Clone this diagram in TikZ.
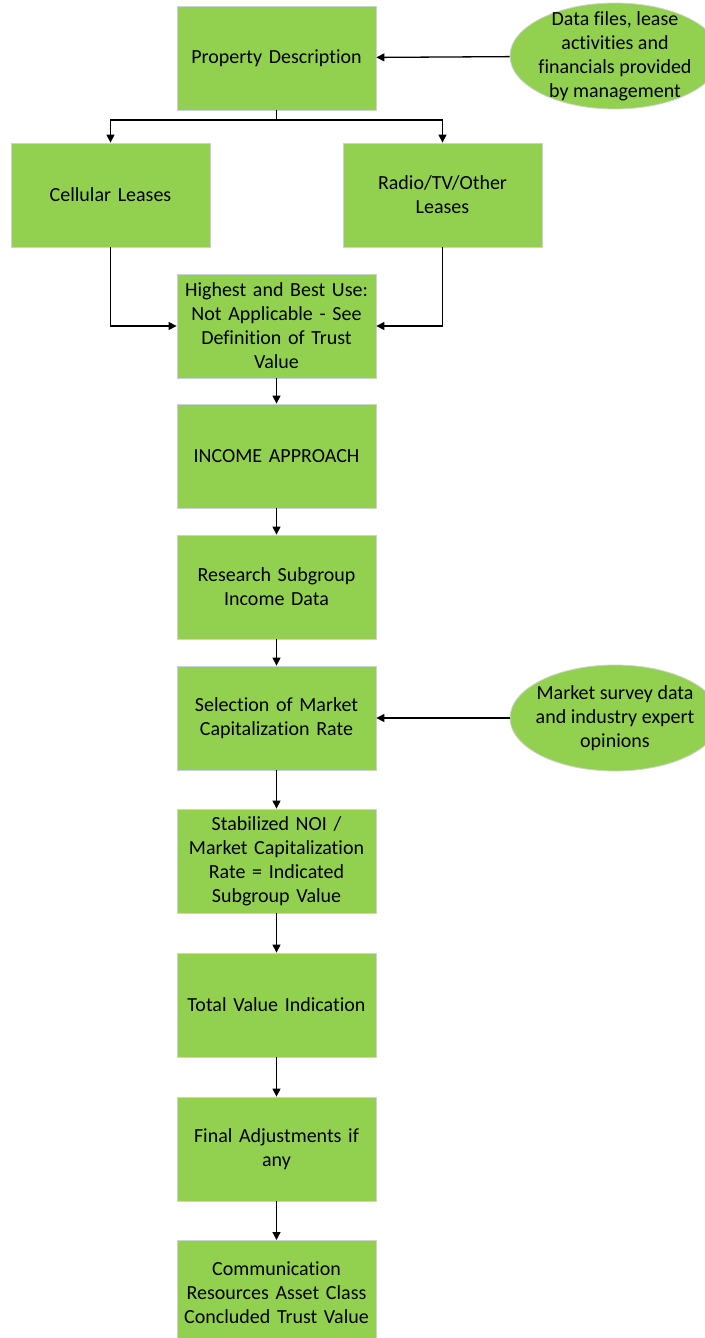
\documentclass[tikz,border=0pt]{standalone}
\usepackage{fontspec}
\setmainfont{Carlito}[Ligatures=NoCommon]
\usetikzlibrary{arrows.meta,shapes.geometric}
\definecolor{boxgreen}{HTML}{92D050}
\definecolor{boxedge}{HTML}{D0D0D0}
\begin{document}
\begin{tikzpicture}[x=1pt,y=-1pt,
  every node/.style={font=\fontsize{20}{24}\selectfont, align=center},
  stepbox/.style={rectangle, fill=boxgreen, draw=boxedge, line width=0.8pt, minimum width=199pt, minimum height=104pt, text width=190pt, inner sep=0pt},
  source/.style={ellipse, fill=boxgreen, draw=boxedge, line width=0.8pt, minimum width=210pt, minimum height=106pt, inner sep=0pt},
  conn/.style={line width=1.3pt, -{Triangle[length=8pt,width=8pt]}}]
\useasboundingbox (0,0) rectangle (704,1338);
\node[stepbox] (pd) at (276.5,58) {Property Description};
\node[source] (src1) at (615,56) {};
\node (src1t) at (src1) {Data files, lease\\activities and\\financials provided\\by management};
\node[stepbox] (cell) at (110.5,195) {Cellular Leases};
\node[stepbox] (radio) at (442.5,195) {Radio/TV/Other\\Leases};
\node[stepbox] (hbu) at (276.5,326) {Highest and Best Use:\\Not Applicable - See\\Definition of Trust\\Value};
\node[stepbox] (inc) at (276.5,456) {INCOME APPROACH};
\node[stepbox] (res) at (276.5,587) {Research Subgroup\\Income Data};
\node[stepbox] (sel) at (276.5,718) {Selection of Market\\Capitalization Rate};
\node[source] (src2) at (615,718) {};
\node (src2t) at (src2) {Market survey data\\and industry expert\\opinions};
\node[stepbox] (stab) at (276.5,861) {Stabilized NOI /\\Market Capitalization\\Rate = Indicated\\Subgroup Value};
\node[stepbox] (tot) at (276.5,1005) {Total Value Indication};
\node[stepbox] (fin) at (276.5,1149) {Final Adjustments if\\any};
\node[stepbox, anchor=north] (com) at (276.5,1240) {Communication\\Resources Asset Class\\Concluded Trust Value};
\coordinate (split) at (276.5,120);
\draw[conn] (src1) -- (pd);
\draw[conn] (pd.south) -- (split) -| (cell.north);
\draw[conn] (split) -| (radio.north);
\draw[conn] (cell.south) |- (hbu.west);
\draw[conn] (radio.south) |- (hbu.east);
\draw[conn] (hbu) -- (inc);
\draw[conn] (inc) -- (res);
\draw[conn] (res) -- (sel);
\draw[conn] (src2) -- (sel);
\draw[conn] (sel) -- (stab);
\draw[conn] (stab) -- (tot);
\draw[conn] (tot) -- (fin);
\draw[conn] (fin) -- (com);
\end{tikzpicture}
\end{document}
